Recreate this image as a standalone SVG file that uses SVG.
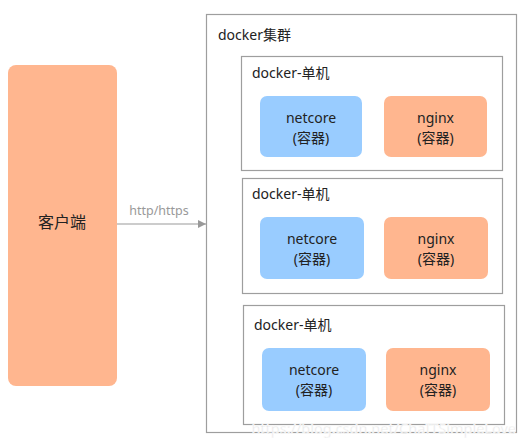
<svg xmlns="http://www.w3.org/2000/svg" width="529" height="444" viewBox="0 0 529 444">
<style>
text{font-family:"Noto Sans","Noto Sans CJK SC",sans-serif;fill:#222}
.frame{fill:#fff;stroke:#9e9e9e;stroke-width:1.2}
.blue{fill:#99CCFF}
.orange{fill:#FFB68F}
.lbl{font-size:14px}
.nt{font-size:14px;text-anchor:middle}
.edge{stroke:#999;stroke-width:1.2;fill:none}
</style>
<defs>
<marker id="arr" viewBox="0 0 10 10" refX="10" refY="5" markerWidth="8" markerHeight="8" markerUnits="userSpaceOnUse" orient="auto">
<path d="M0,0 L10,5 L0,10 z" fill="#999"/>
</marker>
</defs>
<rect width="529" height="444" fill="#fff"/>
<g id="client">
<rect class="orange" x="8" y="65" width="109" height="321" rx="8"/>
<text x="62" y="228" style="font-size:16px;text-anchor:middle">客户端</text>
</g>
<g id="cluster">
<rect class="frame" x="206.5" y="14.5" width="310" height="418"/>
<text class="lbl" x="218" y="40">docker集群</text>
</g>
<g id="host1">
<rect class="frame" x="241.5" y="56.5" width="261" height="114"/>
<text class="lbl" x="252" y="78">docker-单机</text>
</g>
<g id="netcore1">
<rect class="blue" x="260" y="96" width="102" height="61" rx="7"/>
<text class="nt" x="311" y="123">netcore</text>
<text class="nt" x="311" y="143">(容器)</text>
</g>
<g id="nginx1">
<rect class="orange" x="384" y="96" width="103" height="61" rx="7"/>
<text class="nt" x="435.5" y="123">nginx</text>
<text class="nt" x="435.5" y="143">(容器)</text>
</g>
<g id="host2">
<rect class="frame" x="242.5" y="178.5" width="260" height="115"/>
<text class="lbl" x="252" y="199">docker-单机</text>
</g>
<g id="netcore2">
<rect class="blue" x="260" y="217" width="104" height="62" rx="7"/>
<text class="nt" x="312" y="244">netcore</text>
<text class="nt" x="312" y="264">(容器)</text>
</g>
<g id="nginx2">
<rect class="orange" x="384" y="217" width="104" height="62" rx="7"/>
<text class="nt" x="436" y="244">nginx</text>
<text class="nt" x="436" y="264">(容器)</text>
</g>
<g id="host3">
<rect class="frame" x="243.5" y="305.5" width="261" height="119"/>
<text class="lbl" x="254" y="330">docker-单机</text>
</g>
<g id="netcore3">
<rect class="blue" x="262" y="348" width="104" height="63" rx="7"/>
<text class="nt" x="314" y="375">netcore</text>
<text class="nt" x="314" y="395">(容器)</text>
</g>
<g id="nginx3">
<rect class="orange" x="386" y="348" width="104" height="63" rx="7"/>
<text class="nt" x="438" y="375">nginx</text>
<text class="nt" x="438" y="395">(容器)</text>
</g>
<g id="connectors">
<line class="edge" x1="117" y1="224" x2="206" y2="224" marker-end="url(#arr)"/>
<text x="159" y="215" style="font-size:12.5px;fill:#999;text-anchor:middle">http/https</text>
</g>
<text x="516" y="434" style="font-size:14.5px;fill:#e4e4e4;text-anchor:end;stroke:#fff;stroke-width:0.5">https://blog.csdn.net/ChaITSimpleLove</text>
</svg>
